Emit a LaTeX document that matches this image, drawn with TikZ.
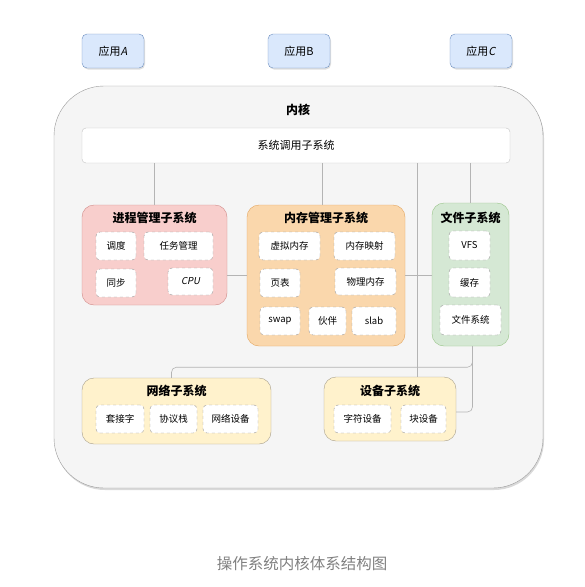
\documentclass[tikz,border=0pt]{standalone}
\usepackage{fontspec}
\setmainfont{Noto Sans CJK SC}
\newfontfamily\slantfont[FakeSlant=0.2]{Noto Sans CJK SC}
\usepackage{tikz}
\usetikzlibrary{shapes}
\usetikzlibrary{positioning}
\usetikzlibrary{calc}
\usetikzlibrary{shadows}
\definecolor{appfill}{HTML}{DAE8FC}
\definecolor{appline}{HTML}{6C8EBF}
\definecolor{procfill}{HTML}{F8CECC}
\definecolor{procline}{HTML}{D08A88}
\definecolor{memfill}{HTML}{FAD7AC}
\definecolor{memline}{HTML}{E3A45E}
\definecolor{filefill}{HTML}{D5E8D4}
\definecolor{fileline}{HTML}{97C487}
\definecolor{yelfill}{HTML}{FFF2CC}
\definecolor{yelline}{HTML}{A89F8C}
\definecolor{kernfill}{HTML}{F5F5F5}
\definecolor{kernline}{HTML}{9A9A9A}
\definecolor{linkcol}{HTML}{B4B4B4}
\tikzstyle{app}=[rectangle,draw=appline,fill=appfill,rounded corners=5pt,
  minimum width=62pt,minimum height=34pt,drop shadow={opacity=0.25,shadow xshift=1pt,shadow yshift=-1.5pt},
  font=\fontsize{11}{13}\selectfont]
\tikzstyle{noyau}=[rectangle,draw=kernline,fill=kernfill,rounded corners=50pt,
  drop shadow={opacity=0.3,shadow xshift=1pt,shadow yshift=-2pt}]
\tikzstyle{appel}=[rectangle,draw=linkcol!80,fill=white,rounded corners=4pt,
  font=\fontsize{11}{13}\selectfont]
\tikzstyle{groupe}=[rectangle,rounded corners=12pt]
\tikzstyle{titre}=[font=\bfseries\fontsize{12}{14}\selectfont]
\tikzstyle{item}=[rectangle,draw=black!40,dashed,fill=white,rounded corners=4pt,
  minimum height=28pt,font=\fontsize{9.5}{11}\selectfont]
\tikzstyle{lien}=[draw=linkcol,line width=0.6pt,rounded corners=5pt]

\begin{document}
\begin{tikzpicture}[x=1pt,y=-1pt]
\useasboundingbox (0,0) rectangle (585,587);
% applications
\node[app] (appa) at (113,51) {应用{\slantfont A}};
\node[app] (appb) at (299,51) {应用B};
\node[app] (appc) at (481,51) {应用{\slantfont C}};
% noyau
\node[noyau,minimum width=489pt,minimum height=402pt] (kern) at (298.5,287) {};
\node[titre] (kerntitle) at (298,110) {内核};
\node[appel,minimum width=428pt,minimum height=35pt] (sys) at (296,145.5) {系统调用子系统};
% sous-systemes
\node[groupe,draw=procline,fill=procfill,minimum width=145pt,minimum height=100pt] (proc) at (154.5,255) {};
\node[groupe,draw=memline,fill=memfill,minimum width=158pt,minimum height=141pt] (mem) at (326,275.5) {};
\node[groupe,draw=fileline,fill=filefill,minimum width=77pt,minimum height=143pt] (file) at (470.5,274.5) {};
\node[groupe,draw=yelline,fill=yelfill,minimum width=189pt,minimum height=66pt] (net) at (176.5,411) {};
\node[groupe,draw=yelline,fill=yelfill,minimum width=132pt,minimum height=64pt] (dev) at (390,409) {};
\node[titre] (proctitle) at (154.5,218) {进程管理子系统};
\node[titre] (memtitle) at (326,218) {内存管理子系统};
\node[titre] (filetitle) at (470.5,218) {文件子系统};
\node[titre] (nettitle) at (176.5,391) {网络子系统};
\node[titre] (devtitle) at (390,391) {设备子系统};
% elements
\node[item,minimum width=40pt] (sched) at (116,246) {调度};
\node[item,minimum width=69pt] (task) at (178.5,246) {任务管理};
\node[item,minimum width=40pt] (sync) at (116,283) {同步};
\node[item,minimum width=45pt,minimum height=27pt] (cpu) at (190.5,281.5) {\slantfont CPU};
\node[item,minimum width=61pt] (virt) at (289.5,246) {虚拟内存};
\node[item,minimum width=61pt] (mmap) at (364.5,246) {内存映射};
\node[item,minimum width=40pt] (page) at (280,283) {页表};
\node[item,minimum width=61pt,minimum height=27pt] (phys) at (365.5,281.5) {物理内存};
\node[item,minimum width=40pt] (swap) at (280,321) {swap};
\node[item,minimum width=37pt] (buddy) at (327.5,321) {伙伴};
\node[item,minimum width=44pt] (slab) at (374,321) {slab};
\node[item,minimum width=41pt,minimum height=29pt] (vfs) at (469.5,245.5) {VFS};
\node[item,minimum width=41pt,minimum height=29pt] (cache) at (469.5,282.5) {缓存};
\node[item,minimum width=61pt,minimum height=30pt] (fs) at (470.5,320) {文件系统};
\node[item,minimum width=48pt] (sock) at (120,419) {套接字};
\node[item,minimum width=47pt] (stack) at (173.5,419) {协议栈};
\node[item,minimum width=55pt] (netdev) at (230.5,419) {网络设备};
\node[item,minimum width=57pt] (chardev) at (362.5,419) {字符设备};
\node[item,minimum width=45pt] (blkdev) at (423.5,419) {块设备};
% liens
\draw[lien] (sys.south -| proc.north) -- (proc.north);
\draw[lien] ([xshift=-4pt]mem.north |- sys.south) -- ([xshift=-4pt]mem.north);
\draw[lien] ([xshift=27pt]dev.north |- sys.south) -- ([xshift=27pt]dev.north);
\draw[lien] (sys.south -| file.north) -- (file.north);
\draw[lien] (proc.east |- mem.west) -- (mem.west);
\draw[lien] (mem.east) -- (mem.east -| file.west);
\draw[lien] ([xshift=2pt]file.south) |- ([yshift=-3pt]dev.east);
\draw[lien] ([xshift=2pt]file.south) -- ++(0,21) -| ([xshift=-5pt]net.north);
% legende
\node[text=black!50,font=\fontsize{15.5}{18}\selectfont] (caption) at (302,564) {操作系统内核体系结构图};
\end{tikzpicture}
\end{document}
